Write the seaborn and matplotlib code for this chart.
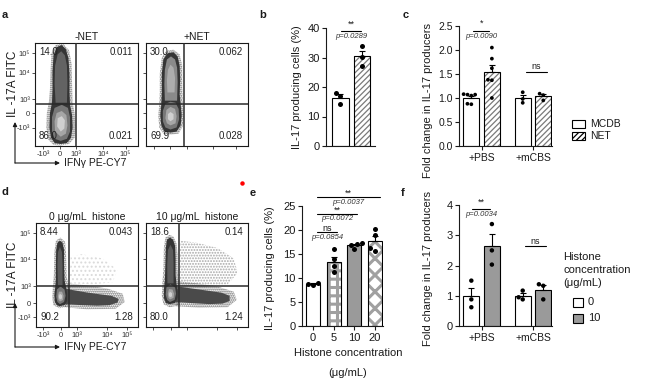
import numpy as np
import pandas as pd
import matplotlib.pyplot as plt
from matplotlib.patches import Rectangle, FancyArrowPatch
from matplotlib.lines import Line2D
import seaborn as sns

W, H = 651, 385

# ---------------- flow plots (a, d) ----------------
FLOW_TICK_LABELS = ['-10³', '0', '10³', '10⁴', '10⁵']
A_XTICKS = [7.8, 24, 40, 66, 88]
A_YTICKS = [17.5, 32, 45.6, 71, 90]
D_XTICKS = [7, 24.5, 40, 70, 89]
D_YTICKS = [9.6, 23, 39.4, 65, 90]

# quadrant percentages: upper-left, upper-right, lower-left, lower-right
A_NEG_QUADS = ['14.0', '0.011', '86.0', '0.021']
A_POS_QUADS = ['30.0', '0.062', '69.9', '0.028']
D_H0_QUADS = ['8.44', '0.043', '90.2', '1.28']
D_H10_QUADS = ['18.6', '0.14', '80.0', '1.24']

A_NEG_GATE = (40, 41)
A_POS_GATE = (37, 41)
D_H0_GATE = (32, 39.4)
D_H10_GATE = (32, 39.4)

# population outlines (display units 0-100)
A_NEG_HALO = [(25, 0.5), (33, 2), (38.5, 8), (39.5, 20), (38.5, 32), (36.5, 42), (36, 60), (35.5, 80), (33, 93), (27, 99.5), (20, 98), (16, 90), (15, 72), (14.5, 55), (13.5, 43), (11.5, 32), (11, 18), (13, 6), (18, 1)]
A_NEG_RIM = [(25, 2), (31, 3), (35, 8), (36.5, 18), (36, 30), (34, 40), (33.5, 52), (33.5, 70), (32.5, 85), (30, 94), (26, 98), (21, 96), (18, 88), (17, 72), (17, 55), (16.5, 42), (14.5, 32), (14, 18), (15.5, 8), (19, 3)]
A_NEG_UPPER = [(20, 42), (31, 42), (31.5, 60), (31, 78), (29, 88), (25.5, 92), (22, 89), (19.5, 78), (19, 60)]
A_NEG_BULB = [(25, 5), (31, 7), (34, 14), (34, 28), (32, 37), (26, 40), (19, 37), (16.5, 28), (16.5, 14), (19, 7)]
A_NEG_CORE = [(25, 9), (30, 12), (31.5, 20), (30.5, 30), (26, 34), (21, 32), (19, 24), (19.5, 14)]
A_NEG_CENTRE = [(25, 14), (28.5, 17), (29, 25), (26, 29), (22, 27), (21.5, 19)]

A_POS_HALO = [(24, 11), (32, 12), (36.5, 20), (37, 32), (36, 42), (35.5, 60), (35.5, 78), (33, 89), (27, 93.5), (20, 92.5), (15.5, 86), (13.5, 70), (13.5, 52), (13, 40), (12, 30), (13, 18), (17, 12)]
A_POS_RIM = [(24, 13), (30, 14), (34, 20), (35, 30), (34, 40), (33, 50), (33.5, 65), (33, 78), (31, 87), (27, 91), (21, 90), (17, 84), (15.5, 70), (15.5, 52), (15, 40), (14, 30), (15, 20), (18, 14)]
A_POS_UPPER = [(18.5, 44), (30.5, 44), (31, 62), (30.5, 76), (28.5, 84), (24.5, 87), (20.5, 84), (18.5, 74), (18, 60)]
A_POS_UPPER_CORE = [(21, 52), (28, 52), (28.5, 66), (27, 76), (24, 79), (21.5, 74), (20.5, 64)]
A_POS_BULB = [(24, 16), (30, 18), (32.5, 26), (32, 36), (29, 42), (24, 43), (19, 41), (16.5, 34), (16.5, 24), (19, 18)]
A_POS_CORE = [(24, 20), (29, 22), (30, 29), (28.5, 36), (24, 38), (20, 35), (19, 27), (20.5, 22)]
A_POS_CENTRE = [(24, 24), (27, 26), (27, 31), (24, 33), (21.5, 31), (21.5, 26)]

D_H0_SPARSE = [(33, 42), (55, 41), (75, 43), (80, 55), (65, 66), (45, 70), (34, 68)]
D_H0_TAIL_HALO = [(28, 19), (50, 17), (78, 17.5), (87, 24), (85, 32), (70, 37), (50, 40), (31, 42)]
D_H0_TAIL = [(28, 22), (45, 21), (60, 20.5), (72, 21), (80, 23.5), (81, 27), (74, 30), (62, 31.5), (48, 33.5), (36, 35.5), (29, 37)]
D_H0_HALO = [(23, 18), (30, 19.5), (33, 25), (33, 34), (31.5, 41), (30, 50), (29.5, 70), (28.5, 82), (24, 86), (19.5, 83), (18, 72), (17.5, 50), (16.5, 38), (16, 28), (17, 21)]
D_H0_RIM = [(23, 20), (28, 21), (30.5, 25), (30.5, 32), (29.5, 38), (28, 45), (27.5, 60), (27.5, 74), (26, 81), (23.5, 83), (21, 81), (19.8, 74), (19.5, 60), (19.5, 45), (18.8, 38), (18, 31), (18.5, 24), (20.5, 21)]
D_H0_COLUMN = [(21.5, 40), (26, 40), (26, 60), (25.5, 72), (23.5, 77), (21.5, 72), (21, 60)]
D_H0_BULB = [(23.5, 22), (27.5, 24), (29, 30), (28, 36), (24, 39), (20.5, 36), (19.8, 29), (21, 24)]
D_H0_CORE = [(23.5, 24.5), (26.5, 26), (27, 30), (25.5, 34), (22.5, 34), (21.5, 30), (22, 26)]
D_H0_CENTRE = [(23.5, 26.5), (25.5, 27.5), (25.5, 30.5), (23.5, 32), (22.5, 30), (22.5, 28)]

D_H10_SPARSE = [(31, 40), (58, 39), (80, 41), (90, 52), (86, 66), (70, 76), (50, 81), (34, 83)]
D_H10_TAIL_HALO = [(29, 20), (52, 18.5), (80, 19), (89, 26), (86, 34), (70, 39), (50, 42), (31, 44)]
D_H10_TAIL = [(29, 24), (45, 23), (62, 22), (75, 22.5), (82, 25), (82, 30), (74, 33), (60, 35), (45, 37), (31, 39)]
D_H10_HALO = [(23, 19), (31, 20.5), (33.5, 27), (33.5, 36), (32, 43), (31, 55), (31, 70), (30, 80), (27, 87), (23, 88.5), (19, 86), (17.5, 76), (17, 55), (16, 42), (15.5, 30), (17, 22)]
D_H10_RIM = [(23, 22), (28.5, 23), (31, 28), (31, 35), (30, 41), (29, 50), (29, 66), (28.5, 78), (26.5, 84), (23.5, 86), (20.5, 84), (19.5, 76), (19, 60), (18.5, 45), (17.5, 36), (17.5, 28), (19.5, 23)]
D_H10_COLUMN = [(21, 42), (27, 42), (27, 62), (26.5, 74), (24, 79), (21.5, 74), (20.8, 60)]
D_H10_BULB = [(23.5, 24), (28, 26), (29.5, 32), (28.5, 38), (24, 41), (20, 38), (19.3, 31), (20.8, 26)]
D_H10_CORE = [(23.5, 26.5), (27, 28), (27.5, 32), (26, 36), (22.5, 36.5), (21.3, 32), (22, 28)]
D_H10_CENTRE = [(23.5, 28.5), (25.5, 29.5), (25.5, 32.5), (23.5, 34), (22.5, 32), (22.5, 30)]

# ---------------- bar plots ----------------
B_GROUPS = ['-NET', '+NET']
B_NEG = [18.0, 17.0, 14.2]
B_POS = [33.9, 30.2, 27.1]

C_TREATMENTS = ['+PBS', '+mCBS']
C_SOURCES = ['MCDB', 'NET']
C_PBS_MCDB = [1.07, 1.08, 1.05, 1.07, 0.88, 0.87]
C_PBS_NET = [2.05, 1.82, 1.62, 1.38, 1.37, 1.00]
C_MCBS_MCDB = [1.12, 0.98, 0.90]
C_MCBS_NET = [1.09, 1.06, 0.95]

E_DOSES = ['0', '5', '10', '20']
E_0 = [8.5, 8.8, 9.0]
E_5 = [16.0, 14.0, 12.5, 11.2]
E_10 = [17.3, 17.0, 16.9, 16.1]
E_20 = [20.2, 19.0, 16.2, 15.6]

F_TREATMENTS = ['+PBS', '+mCBS']
F_DOSES = ['0', '10']
F_PBS_0 = [1.50, 0.88, 0.62]
F_PBS_10 = [3.37, 2.50, 2.03]
F_MCBS_0 = [1.17, 0.95, 0.88]
F_MCBS_10 = [1.38, 1.33, 0.88]

GREY = '#9a9a9a'

sns.set_theme(style='ticks')
plt.rcParams.update({
    'font.family': ['Liberation Sans', 'DejaVu Sans'],
    'font.size': 8,
    'axes.linewidth': 0.8,
    'axes.edgecolor': '#1a1a1a',
    'xtick.major.width': 0.8,
    'ytick.major.width': 0.8,
    'xtick.major.size': 3,
    'ytick.major.size': 3,
    'hatch.linewidth': 0.9,
    'text.color': '#1a1a1a',
    'xtick.color': '#1a1a1a',
    'ytick.color': '#1a1a1a',
})

fig = plt.figure(figsize=(W / 100, H / 100), dpi=100)


def px_axes(x0, y0, x1, y1):
    return fig.add_axes([x0 / W, 1 - y1 / H, (x1 - x0) / W, (y1 - y0) / H])


def ftext(x, y, s, **kw):
    return fig.text(x / W, 1 - y / H, s, **kw)


def farrow(x0, y0, x1, y1):
    fig.add_artist(FancyArrowPatch((x0 / W, 1 - y0 / H), (x1 / W, 1 - y1 / H),
                                   transform=fig.transFigure, arrowstyle='-|>',
                                   mutation_scale=6, lw=0.8, color='#1a1a1a',
                                   shrinkA=0, shrinkB=0))


def draw_flow(ax, layers, gate, quads, xticks, yticks, labelled):
    for poly, color, hatch in layers:
        xs, ys = zip(*poly)
        if hatch:
            ax.fill(xs, ys, facecolor='none', edgecolor=color, hatch=hatch,
                    linewidth=0, zorder=1)
        else:
            ax.fill(xs, ys, color=color, linewidth=0, zorder=2)
    ax.axvline(gate[0], color='#2a2a2a', lw=1.1, zorder=4)
    ax.axhline(gate[1], color='#2a2a2a', lw=1.1, zorder=4)
    ax.set_xlim(0, 100)
    ax.set_ylim(0, 100)
    ax.set_xticks(xticks)
    ax.set_yticks(yticks)
    if labelled:
        ax.set_xticklabels(FLOW_TICK_LABELS)
        ax.set_yticklabels(FLOW_TICK_LABELS)
    else:
        ax.set_xticklabels([])
        ax.set_yticklabels([])
    ax.tick_params(length=2, width=0.6, labelsize=5.5, pad=1.5, colors='#333333')
    for s in ax.spines.values():
        s.set_linewidth(0.8)
    kw = dict(transform=ax.transAxes, fontsize=7, color='#222222', zorder=5)
    ax.text(0.04, 0.91, quads[0], ha='left', va='center', **kw)
    ax.text(0.95, 0.91, quads[1], ha='right', va='center', **kw)
    ax.text(0.04, 0.10, quads[2], ha='left', va='center', **kw)
    ax.text(0.95, 0.10, quads[3], ha='right', va='center', **kw)


def cloud_layers(halo, rim, bulb, core, centre, extra=()):
    layers = [(halo, '#5a5a5a', '........'), (rim, '#353535', None)]
    layers += list(extra)
    layers += [(bulb, '#777777', None), (core, '#a6a6a6', None), (centre, '#d0d0d0', None)]
    return layers


def hatch_bar(ax, bar, hatch, hatch_color, face='white', hatch_lw=None):
    bar.set_facecolor(face)
    bar.set_edgecolor(hatch_color)
    bar.set_hatch(hatch)
    bar.set_linewidth(0)
    if hatch_lw and hasattr(bar, 'set_hatch_linewidth'):
        bar.set_hatch_linewidth(hatch_lw)
    ax.add_patch(Rectangle((bar.get_x(), bar.get_y()), bar.get_width(), bar.get_height(),
                           fill=False, edgecolor='black', linewidth=0.8,
                           zorder=bar.get_zorder() + 0.5))


def add_sem(ax, bars, stats):
    xs = [b.get_x() + b.get_width() / 2 for b in bars]
    ax.errorbar(xs, stats['mean'], yerr=[np.zeros(len(stats)), stats['sem']],
                fmt='none', ecolor='black', elinewidth=0.8, capsize=2.5,
                capthick=0.8, zorder=3)


def sig(ax, x0, x1, y, star, y_star, p=None, y_p=None):
    ax.plot([x0, x1], [y, y], color='black', lw=0.8, clip_on=False)
    ax.text((x0 + x1) / 2, y_star, star, ha='center', va='center', fontsize=6.5)
    if p:
        ax.text((x0 + x1) / 2, y_p, p, ha='center', va='center', fontsize=5.5,
                style='italic', color='#333333')


def bar_axis(ax, ylim, yticks, fmt='{:g}', size=8):
    ax.set_ylim(*ylim)
    ax.set_yticks(yticks)
    ax.set_yticklabels([fmt.format(v) for v in yticks])
    sns.despine(ax=ax)
    ax.set_xlabel('')
    ax.set_ylabel('')
    ax.tick_params(labelsize=size, pad=1.5)


def lift_points(ax):
    for col in ax.collections:
        col.set_zorder(5)


# ---------------- panel a ----------------
ax_a1 = px_axes(35, 43, 138, 146)
draw_flow(ax_a1, cloud_layers(A_NEG_HALO, A_NEG_RIM, A_NEG_BULB, A_NEG_CORE, A_NEG_CENTRE,
                              [(A_NEG_UPPER, '#636363', None)]),
          A_NEG_GATE, A_NEG_QUADS, A_XTICKS, A_YTICKS, True)
ax_a1.set_title('-NET', fontsize=7.5, pad=2)
ax_a2 = px_axes(146, 43, 248, 146)
draw_flow(ax_a2, cloud_layers(A_POS_HALO, A_POS_RIM, A_POS_BULB, A_POS_CORE, A_POS_CENTRE,
                              [(A_POS_UPPER, '#8a8a8a', None), (A_POS_UPPER_CORE, '#adadad', None)]),
          A_POS_GATE, A_POS_QUADS, A_XTICKS, A_YTICKS, False)
ax_a2.set_title('+NET', fontsize=7.5, pad=2)

# ---------------- panel d ----------------
ax_d1 = px_axes(36, 223, 138, 327)
draw_flow(ax_d1, [(D_H0_SPARSE, '#dadada', '....'), (D_H0_TAIL_HALO, '#666666', '........'),
                  (D_H0_TAIL, '#4a4a4a', None)] +
          cloud_layers(D_H0_HALO, D_H0_RIM, D_H0_BULB, D_H0_CORE, D_H0_CENTRE,
                       [(D_H0_COLUMN, '#5c5c5c', None)]),
          D_H0_GATE, D_H0_QUADS, D_XTICKS, D_YTICKS, True)
ax_d1.set_title('0 μg/mL  histone', fontsize=7.5, pad=2)
ax_d2 = px_axes(146, 223, 248, 327)
draw_flow(ax_d2, [(D_H10_SPARSE, '#a8a8a8', '......'), (D_H10_TAIL_HALO, '#666666', '........'),
                  (D_H10_TAIL, '#4a4a4a', None)] +
          cloud_layers(D_H10_HALO, D_H10_RIM, D_H10_BULB, D_H10_CORE, D_H10_CENTRE,
                       [(D_H10_COLUMN, '#5c5c5c', None)]),
          D_H10_GATE, D_H10_QUADS, D_XTICKS, D_YTICKS, False)
ax_d2.set_title('10 μg/mL  histone', fontsize=7.5, pad=2)

for y_lab, y_corner, y_top in [(84, 163, 122), (275, 347, 303)]:
    ftext(13, y_lab, 'IL -17A FITC', rotation=90, ha='center', va='center', fontsize=8.5)
    farrow(15, y_corner, 15, y_top)
    farrow(15, y_corner, 60, y_corner)
    ftext(64, y_corner, 'IFNγ PE-CY7', ha='left', va='center', fontsize=7.5)

# ---------------- panel b ----------------
b_df = pd.DataFrame({'group': [B_GROUPS[0]] * len(B_NEG) + [B_GROUPS[1]] * len(B_POS),
                     'value': B_NEG + B_POS})
ax_b = px_axes(326, 28, 375, 146)
sns.barplot(data=b_df, x='group', y='value', order=B_GROUPS, color='white',
            edgecolor='black', linewidth=0.8, width=0.77, errorbar=None, ax=ax_b)
b_bars = sorted(ax_b.patches, key=lambda p: p.get_x())
b_stats = b_df.groupby('group')['value'].agg(['mean', 'sem']).reindex(B_GROUPS)
hatch_bar(ax_b, b_bars[1], '//////', '#7a7a7a')
add_sem(ax_b, b_bars, b_stats)
sns.swarmplot(data=b_df, x='group', y='value', order=B_GROUPS, color='black', size=3.6, ax=ax_b)
lift_points(ax_b)
bar_axis(ax_b, (0, 40), [0, 10, 20, 30, 40])
ax_b.set_xlim(-0.64, 1.59)
ax_b.set_xticks([])
sig(ax_b, 0.05, 0.95, 39, '**', 41.4, 'p=0.0289', 37)
ftext(297, 87, 'IL-17 producing cells (%)', rotation=90, ha='center', va='center', fontsize=8)

# ---------------- panel c ----------------
c_parts = [('+PBS', 'MCDB', C_PBS_MCDB), ('+PBS', 'NET', C_PBS_NET),
           ('+mCBS', 'MCDB', C_MCBS_MCDB), ('+mCBS', 'NET', C_MCBS_NET)]
c_df = pd.DataFrame([(t, s, v) for t, s, vals in c_parts for v in vals],
                    columns=['treatment', 'source', 'value'])
ax_c = px_axes(459, 26, 552, 146)
sns.barplot(data=c_df, x='treatment', y='value', hue='source', order=C_TREATMENTS,
            hue_order=C_SOURCES, palette={'MCDB': 'white', 'NET': 'white'},
            edgecolor='black', linewidth=0.8, gap=0.22, errorbar=None, legend=False, ax=ax_c)
c_bars = sorted(ax_c.patches, key=lambda p: p.get_x())
c_stats = c_df.groupby(['treatment', 'source'])['value'].agg(['mean', 'sem']).reindex(
    pd.MultiIndex.from_product([C_TREATMENTS, C_SOURCES]))
for i in (1, 3):
    hatch_bar(ax_c, c_bars[i], '//////', '#7a7a7a')
add_sem(ax_c, c_bars, c_stats)
sns.swarmplot(data=c_df, x='treatment', y='value', hue='source', order=C_TREATMENTS,
              hue_order=C_SOURCES, dodge=True, palette={'MCDB': 'black', 'NET': 'black'},
              size=2.7, legend=False, ax=ax_c)
lift_points(ax_c)
bar_axis(ax_c, (0, 2.5), [0, 0.5, 1.0, 1.5, 2.0, 2.5], '{:.1f}', 7.5)
ax_c.set_xlim(-0.44, 1.37)
ax_c.tick_params(axis='x', labelsize=7.5, pad=2)
sig(ax_c, -0.165, 0.146, 2.40, '*', 2.56, 'p=0.0090', 2.29)
sig(ax_c, 0.86, 1.27, 1.54, 'ns', 1.65)
ftext(428, 100, 'Fold change in IL-17 producers', rotation=90, ha='center', va='center', fontsize=8)
for label, hatch, yc in [('MCDB', None, 124), ('NET', '//////', 136)]:
    fig.add_artist(Rectangle((572 / W, 1 - (yc + 4) / H), 13 / W, 8 / H, transform=fig.transFigure,
                             facecolor='white', edgecolor='black', lw=0.8, hatch=hatch))
    ftext(590, yc, label, ha='left', va='center', fontsize=7.5)

# ---------------- panel e ----------------
e_df = pd.DataFrame({'dose': ['0'] * len(E_0) + ['5'] * len(E_5) + ['10'] * len(E_10) + ['20'] * len(E_20),
                     'value': E_0 + E_5 + E_10 + E_20})
ax_e = px_axes(302, 206, 383, 326)
sns.barplot(data=e_df, x='dose', y='value', order=E_DOSES, hue='dose', hue_order=E_DOSES,
            palette={'0': 'white', '5': 'white', '10': GREY, '20': 'white'}, legend=False,
            edgecolor='black', linewidth=0.8, width=0.68, errorbar=None, ax=ax_e)
e_bars = sorted(ax_e.patches, key=lambda p: p.get_x())
e_stats = e_df.groupby('dose')['value'].agg(['mean', 'sem']).reindex(E_DOSES)
hatch_bar(ax_e, e_bars[1], '++', '#a0a0a0', hatch_lw=2.2)
hatch_bar(ax_e, e_bars[3], 'xx', '#a0a0a0', hatch_lw=2.2)
add_sem(ax_e, e_bars, e_stats)
sns.swarmplot(data=e_df, x='dose', y='value', order=E_DOSES, color='black', size=3.6, ax=ax_e)
lift_points(ax_e)
bar_axis(ax_e, (0, 25), [0, 5, 10, 15, 20, 25])
ax_e.set_xlim(-0.54, 3.41)
ax_e.tick_params(axis='x', labelsize=8, pad=2)
sig(ax_e, 0.2, 3.27, 26.9, '**', 27.7, 'p=0.0037', 25.8)
sig(ax_e, 0.2, 2.15, 23.3, '**', 24.2, 'p=0.0072', 22.3)
sig(ax_e, 0.2, 1.17, 19.6, 'ns', 20.4, 'p=0.0854', 18.5)
ftext(270, 268, 'IL-17 producing cells (%)', rotation=90, ha='center', va='center', fontsize=8)
ftext(348, 353, 'Histone concentration', ha='center', va='center', fontsize=8)
ftext(348, 373, '(μg/mL)', ha='center', va='center', fontsize=8)

# ---------------- panel f ----------------
f_parts = [('+PBS', '0', F_PBS_0), ('+PBS', '10', F_PBS_10),
           ('+mCBS', '0', F_MCBS_0), ('+mCBS', '10', F_MCBS_10)]
f_df = pd.DataFrame([(t, d, v) for t, d, vals in f_parts for v in vals],
                    columns=['treatment', 'dose', 'value'])
ax_f = px_axes(459, 205, 552, 326)
sns.barplot(data=f_df, x='treatment', y='value', hue='dose', order=F_TREATMENTS,
            hue_order=F_DOSES, palette={'0': 'white', '10': GREY},
            edgecolor='black', linewidth=0.8, gap=0.22, errorbar=None, legend=False, ax=ax_f)
f_bars = sorted(ax_f.patches, key=lambda p: p.get_x())
f_stats = f_df.groupby(['treatment', 'dose'])['value'].agg(['mean', 'sem']).reindex(
    pd.MultiIndex.from_product([F_TREATMENTS, F_DOSES]))
add_sem(ax_f, f_bars, f_stats)
sns.swarmplot(data=f_df, x='treatment', y='value', hue='dose', order=F_TREATMENTS,
              hue_order=F_DOSES, dodge=True, palette={'0': 'black', '10': 'black'},
              size=3.2, legend=False, ax=ax_f)
lift_points(ax_f)
bar_axis(ax_f, (0, 4), [0, 1, 2, 3, 4])
ax_f.set_xlim(-0.44, 1.37)
ax_f.tick_params(axis='x', labelsize=7.5, pad=2)
sig(ax_f, -0.18, 0.17, 3.87, '**', 4.1, 'p=0.0034', 3.67)
sig(ax_f, 0.84, 1.25, 2.63, 'ns', 2.8)
ftext(428, 268, 'Fold change in IL-17 producers', rotation=90, ha='center', va='center', fontsize=8)
for i, line in enumerate(['Histone', 'concentration', '(μg/mL)']):
    ftext(563, 257 + 13 * i, line, ha='left', va='center', fontsize=8)
for label, face, yc in [('0', 'white', 302), ('10', GREY, 318)]:
    fig.add_artist(Rectangle((573 / W, 1 - (yc + 4.5) / H), 10 / W, 9 / H, transform=fig.transFigure,
                             facecolor=face, edgecolor='black', lw=0.8))
    ftext(588, yc, label, ha='left', va='center', fontsize=8)

# ---------------- panel letters ----------------
for letter, x, y in [('a', 5, 15), ('b', 263, 15), ('c', 406, 15),
                     ('d', 5, 192), ('e', 253, 193), ('f', 403, 193)]:
    ftext(x, y, letter, fontweight='bold', fontsize=8, ha='center', va='center')

fig.add_artist(Line2D([242 / W], [1 - 183 / H], marker='o', ms=2.2, color='red',
                      transform=fig.transFigure))

fig.savefig('out.png', dpi=100)
